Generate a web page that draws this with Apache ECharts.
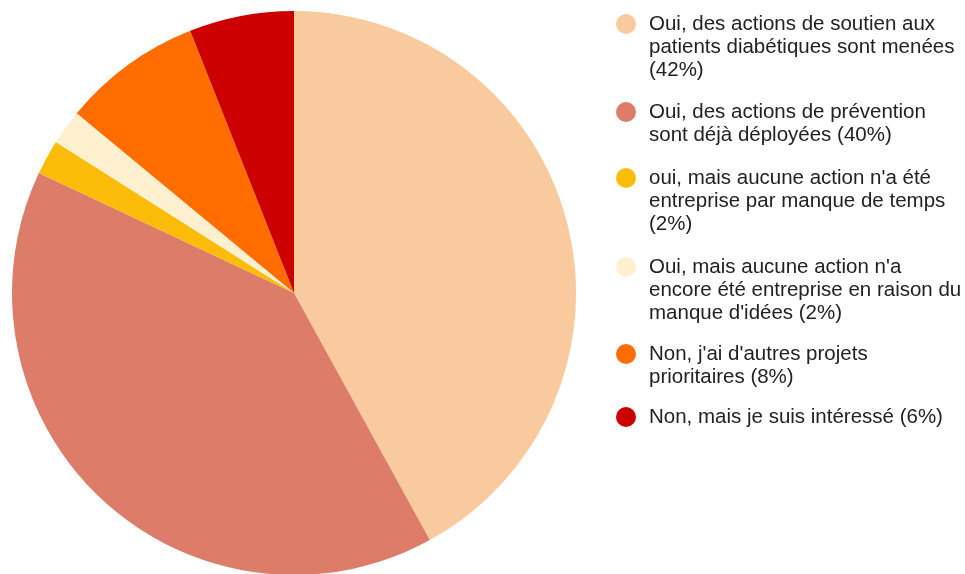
<!DOCTYPE html>
<html>
<head>
<meta charset="utf-8">
<script src="https://cdn.jsdelivr.net/npm/echarts@6/dist/echarts.min.js"></script>
<style>
  html, body { margin: 0; padding: 0; background: #fff; }
  #main { width: 965px; height: 574px; }
</style>
</head>
<body>
<div id="main"></div>
<script>
var labels = [
  'Oui, des actions de soutien aux\npatients diabétiques sont menées\n(42%)',
  'Oui, des actions de prévention\nsont déjà déployées (40%)',
  'oui, mais aucune action n\'a été\nentreprise par manque de temps\n(2%)',
  'Oui, mais aucune action n\'a\nencore été entreprise en raison du\nmanque d\'idées (2%)',
  'Non, j\'ai d\'autres projets\nprioritaires (8%)',
  'Non, mais je suis intéressé (6%)'
];
var values = [42, 40, 2, 2, 8, 6];
var colors = ['#F8CA9D', '#DE7C6A', '#FBBC09', '#FFF1D0', '#FF6D01', '#CC0000'];

// icon centre y of each legend row
var iconY = [23, 111, 177, 266, 353, 416];
var lh = 23;

var txt = {
  fontFamily: 'Liberation Sans, Arial, sans-serif',
  fontSize: 20.5,
  color: '#222',
  lineHeight: lh
};

// one legend per row so the dot sits next to the first line
var legends = labels.map(function (name, i) {
  var n = name.split('\n').length;
  var pad = new Array(n).join('\n');
  return {
    orient: 'vertical',
    left: 616,
    top: iconY[i] - 10 + Math.min(0, 10 - (2 * n - 1) * lh / 2) + 1,
    padding: 0,
    itemWidth: 20,
    itemHeight: 20,
    icon: 'circle',
    selectedMode: false,
    data: [{ name: name }],
    formatter: function (nm) { return pad + '{t|' + nm + '}'; },
    textStyle: Object.assign({}, txt, {
      rich: { t: Object.assign({}, txt, { padding: [0, 0, 0, 8] }) }
    })
  };
});

var option = {
  animation: false,
  color: colors,
  legend: legends,
  series: [{
    type: 'pie',
    center: [294, 293],
    radius: 282,
    startAngle: 90,
    clockwise: true,
    label: { show: false },
    labelLine: { show: false },
    emphasis: { scale: false },
    data: labels.map(function (name, i) {
      return { name: name, value: values[i] };
    })
  }]
};

var myChart = echarts.init(document.getElementById('main'));
myChart.setOption(option);
</script>
</body>
</html>
